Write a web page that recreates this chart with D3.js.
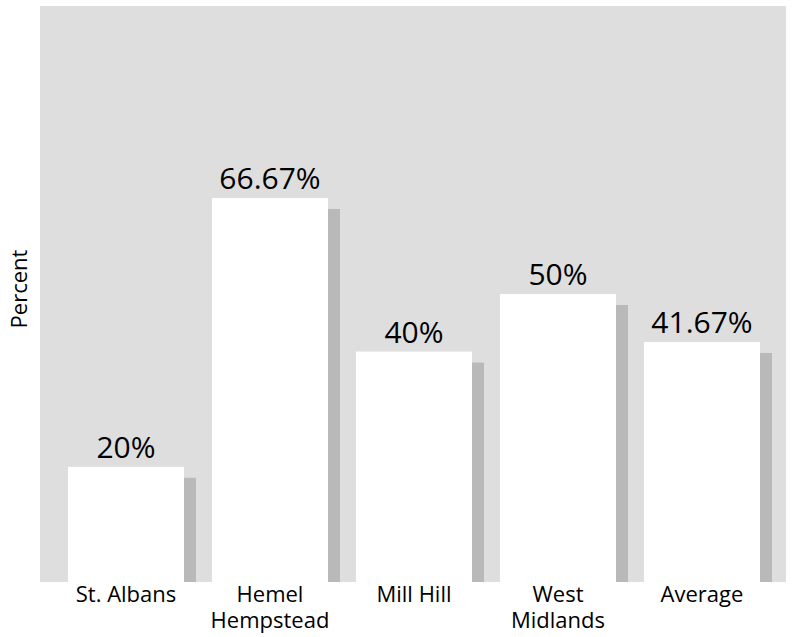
<!DOCTYPE html>
<html>
<head>
<meta charset="utf-8">
<script src="https://cdn.jsdelivr.net/npm/d3@7"></script>
<style>
  body { margin: 0; background: #fff; }
  text { font-family: "Open Sans", sans-serif; fill: #000; }
</style>
</head>
<body>
<div id="chart"></div>
<script>
const categories = [["St. Albans"], ["Hemel", "Hempstead"], ["Mill Hill"], ["West", "Midlands"], ["Average"]];
const values = [20, 66.67, 40, 50, 41.67];
const valueLabels = ["20%", "66.67%", "40%", "50%", "41.67%"];

const w = 793;
const h = 637;

const margin = {
    left: 40,
    right: 7,
    top: 6,
    bottom: 55
};

const width = w - margin.left - margin.right;
const height = h - margin.top - margin.bottom;

const svg = d3.select("#chart")
    .append("svg")
    .attr("width", w)
    .attr("height", h);

const g = svg.append("g")
    .attr("transform", "translate(" + margin.left + "," + margin.top + ")");

// gray plot panel
g.append("rect")
    .attr("width", width)
    .attr("height", height)
    .style("fill", "#dedede");

const names = categories.map(d => d.join(" "));

const x = d3.scaleBand()
    .domain(names)
    .range([14, 14 + 720])
    .paddingInner(28 / 144)
    .paddingOuter(14 / 144);

const y = d3.scaleLinear()
    .domain([0, 100])
    .range([height, 0]);

const shadowW = 12;
const shadowDrop = 11;

// shadows behind the bars
g.selectAll("rect.shadow")
    .data(values)
    .enter()
    .append("rect")
    .attr("class", "shadow")
    .attr("x", (d, i) => x(names[i]) + x.bandwidth())
    .attr("y", d => y(d) + shadowDrop)
    .attr("width", shadowW)
    .attr("height", d => height - y(d) - shadowDrop)
    .style("fill", "#b9b9b9");

g.selectAll("rect.bar")
    .data(values)
    .enter()
    .append("rect")
    .attr("class", "bar")
    .attr("x", (d, i) => x(names[i]))
    .attr("y", d => y(d))
    .attr("width", x.bandwidth())
    .attr("height", d => height - y(d))
    .style("fill", "#ffffff");

g.selectAll("text.value")
    .data(values)
    .enter()
    .append("text")
    .attr("class", "value")
    .attr("x", (d, i) => x(names[i]) + x.bandwidth() / 2)
    .attr("y", d => y(d) - 9)
    .attr("text-anchor", "middle")
    .style("font-size", "30px")
    .text((d, i) => valueLabels[i]);

// category labels, can be two lines
const cat = g.selectAll("text.cat")
    .data(categories)
    .enter()
    .append("text")
    .attr("class", "cat")
    .attr("x", (d, i) => x(names[i]) + x.bandwidth() / 2)
    .attr("y", height + 20)
    .attr("text-anchor", "middle")
    .style("font-size", "22px");

cat.selectAll("tspan")
    .data(d => d)
    .enter()
    .append("tspan")
    .attr("x", function() { return d3.select(this.parentNode).attr("x"); })
    .attr("dy", (d, i) => i === 0 ? 0 : 26)
    .text(d => d);

svg.append("text")
    .attr("transform", "translate(27," + (margin.top + height / 2 - 5) + ") rotate(-90)")
    .attr("text-anchor", "middle")
    .style("font-size", "22px")
    .text("Percent");
</script>
</body>
</html>
